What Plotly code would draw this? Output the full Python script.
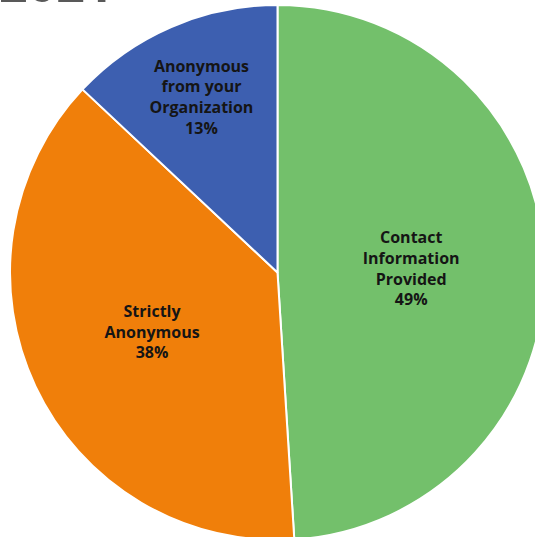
import plotly.graph_objects as go

# report type share
labels = ['Contact Information Provided', 'Strictly Anonymous', 'Anonymous from your Organization']
display_labels = ['Contact<br>Information<br>Provided', 'Strictly<br>Anonymous', 'Anonymous<br>from your<br>Organization']
values = [49, 38, 13]
colors = ['#73C06B', '#F07F0A', '#3D5FB0']

W, H = 545, 540

fig = go.Figure(go.Pie(
    labels=labels,
    values=values,
    customdata=display_labels,
    texttemplate='<b>%{customdata}<br>%{percent:.0%}</b>',
    textposition='inside',
    insidetextorientation='horizontal',
    textfont=dict(family='Open Sans', size=16, color='#151515'),
    marker=dict(colors=colors, line=dict(color='white', width=2)),
    sort=False,
    direction='clockwise',
    rotation=0,
    hole=0,
))

fig.add_annotation(text='<b>2021</b>', xref='paper', yref='paper', x=-0.025, y=1.0,
                   xanchor='left', yanchor='bottom', yshift=-14, showarrow=False,
                   font=dict(family='Open Sans', size=50, color='#595959'))

fig.update_layout(width=W, height=H, showlegend=False,
                  margin=dict(l=10, r=0, t=5, b=0),
                  paper_bgcolor='white', plot_bgcolor='white')

fig.write_html('out.html', config={'displayModeBar': False},
               post_script="document.body.style.margin='0';document.body.style.overflow='hidden';")
